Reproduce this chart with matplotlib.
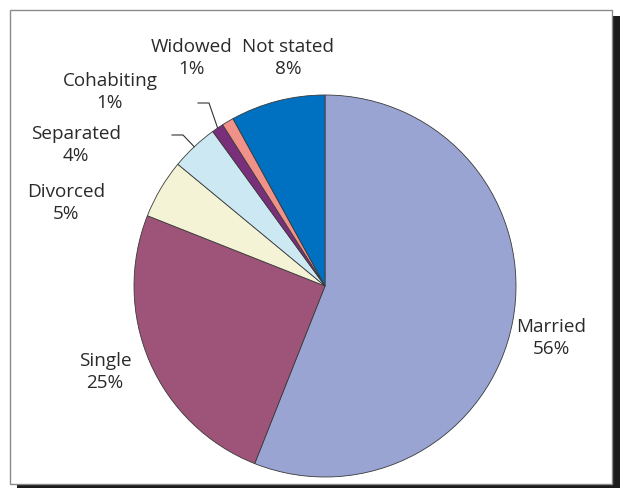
import numpy as np
import matplotlib
matplotlib.use("Agg")
import matplotlib.pyplot as plt
from matplotlib.patches import Rectangle

# Marital status shares (percent), drawn clockwise from 12 o'clock
categories = ["Married", "Single", "Divorced", "Separated", "Cohabiting", "Widowed", "Not stated"]
shares = [56, 25, 5, 4, 1, 1, 8]
colors = ["#99a4d2", "#9e5478", "#f5f3d5", "#cce8f3", "#7a2f7b", "#f0918a", "#0071c1"]

# Label anchor points in pixel space (x, y from top)
label_pos = [(551, 338), (105, 372), (66, 203), (76, 145), (110, 92), (192, 58), (288, 58)]
# Slices that get an elbow leader line: index -> elbow start x, y of horizontal stroke
leaders = {3: (172, 136), 4: (198, 104)}

W, H = 620, 489
fig = plt.figure(figsize=(W / 100, H / 100), dpi=100)
ax = fig.add_axes([0, 0, 1, 1])

def py(y):
    return H - y

# Frame with drop shadow
ax.add_patch(Rectangle((17, py(489)), 603, 472, facecolor="#1c1c1c", edgecolor="none", zorder=0))
ax.add_patch(Rectangle((10, py(485)), 602, 474, facecolor="white", edgecolor="#8a8a8a", lw=1.0, zorder=1))

cx, cy, r = 325, 287, 191
wedges, _ = ax.pie(shares, colors=colors, startangle=90, counterclock=False,
                   center=(cx, py(cy)), radius=r, frame=True,
                   wedgeprops=dict(edgecolor="#3a3a3a", linewidth=0.6))
for w in wedges:
    w.set_zorder(2)

ax.set_xlim(0, W)
ax.set_ylim(0, H)
ax.set_aspect("auto")
ax.axis("off")

font = dict(family=["Open Sans", "DejaVu Sans"], size=13.6, color="#2a2a2a")
for i, (name, val) in enumerate(zip(categories, shares)):
    lx, ly = label_pos[i]
    ax.text(lx, py(ly), f"{name}\n{val}%", ha="center", va="center",
            linespacing=1.3, zorder=3, **font)

cum = np.cumsum([0] + shares) / sum(shares)
for i, (ex, ey) in leaders.items():
    mid = (cum[i] + cum[i + 1]) / 2
    ang = np.deg2rad(90 - mid * 360)
    tx, ty = cx + r * np.cos(ang), cy - r * np.sin(ang)
    ax.plot([ex, ex + 11, tx], [py(ey), py(ey), py(ty)], color="#333333", lw=0.8, zorder=3)

fig.savefig("out.png", dpi=100)
